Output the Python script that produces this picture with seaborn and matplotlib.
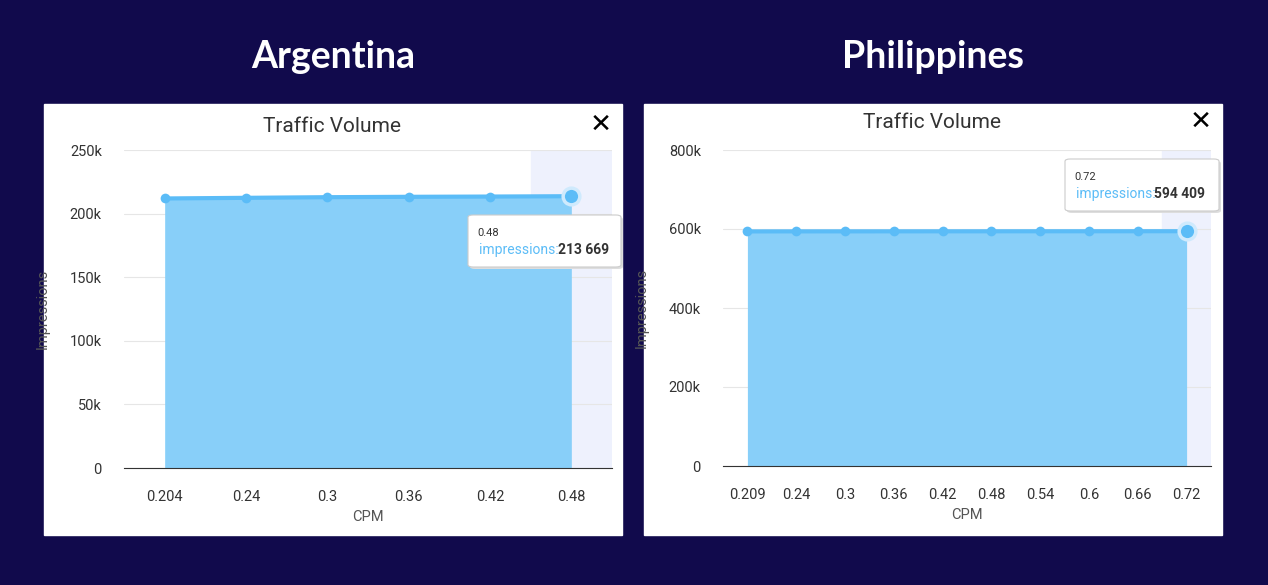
import matplotlib
matplotlib.use('Agg')
import matplotlib.pyplot as plt
import matplotlib.patches as patches
import seaborn as sns
import pandas as pd

# data
arg_cpm = ['0.204', '0.24', '0.3', '0.36', '0.42', '0.48']
arg_imp = [211900, 212400, 212900, 213200, 213400, 213669]
arg_ticks = [0, 50000, 100000, 150000, 200000, 250000]
arg_ticklabels = ['0', '50k', '100k', '150k', '200k', '250k']

phl_cpm = ['0.209', '0.24', '0.3', '0.36', '0.42', '0.48', '0.54', '0.6', '0.66', '0.72']
phl_imp = [593900, 594000, 594050, 594100, 594150, 594200, 594250, 594300, 594350, 594409]
phl_ticks = [0, 200000, 400000, 600000, 800000]
phl_ticklabels = ['0', '200k', '400k', '600k', '800k']

sns.set_style('white')
plt.rcParams['font.family'] = ['Roboto', 'DejaVu Sans']
bg = '#110a4c'
blue = '#5bbcf7'
fill = '#88cff9'
W, H = 1268, 585

fig = plt.figure(figsize=(12.68, 5.85), dpi=100)
fig.patch.set_facecolor(bg)


def panel(box_x, ax_rect, country, cpm, imp, ticks, ticklabels, ymax, title_y,
          tip_val, tip_box, tip_y):
    fig.patches.append(patches.Rectangle((box_x / W, 1 - 535 / H), 578 / W, 431 / H,
                                         transform=fig.transFigure, color='white', zorder=-5))
    fig.text((box_x + 289) / W, 1 - 57 / H, country, color='white', fontsize=27,
             fontweight='bold', family=['Lato', 'DejaVu Sans'], ha='center', va='center')
    fig.text((box_x + 288) / W, 1 - title_y / H, 'Traffic Volume', color='#333333',
             fontsize=15, ha='center', va='center')
    fig.text((box_x + 557) / W, 1 - (title_y - 1) / H, '\u2715', color='black',
             fontsize=19, ha='center', va='center', family=['DejaVu Sans'])

    ax = fig.add_axes(ax_rect)
    ax.patch.set_alpha(0)
    df = pd.DataFrame({'CPM': cpm, 'Impressions': imp})
    x = list(range(len(cpm)))
    n = len(cpm)
    ax.axvspan(n - 1.5, n - 0.5, color='#eef1fd', zorder=0)
    ax.fill_between(x, 0, imp, color=fill, zorder=1, linewidth=0)
    sns.lineplot(data=df, x='CPM', y='Impressions', ax=ax, color=blue, linewidth=3,
                 marker='o', markersize=7, markeredgewidth=0, zorder=3, sort=False)
    ax.plot(n - 1, imp[-1], 'o', color=blue, markersize=12, markeredgecolor='#cfeafd',
            markeredgewidth=2.5, zorder=4)
    ax.set_xlim(-0.5, n - 0.5)
    ax.set_ylim(0, ymax)
    ax.set_yticks(ticks)
    ax.set_yticklabels(ticklabels)
    ax.grid(axis='y', color='#e6e6e6', linewidth=0.8)
    ax.set_axisbelow(True)
    for s in ['top', 'right', 'left']:
        ax.spines[s].set_visible(False)
    ax.spines['bottom'].set_color('#333333')
    ax.tick_params(axis='x', length=0, labelsize=10.5, labelcolor='#333333', pad=16)
    ax.tick_params(axis='y', length=0, labelsize=10.5, labelcolor='#333333', pad=16)
    ax.set_xlabel('CPM', fontsize=10.5, color='#555555', labelpad=4)
    ax.set_ylabel('Impressions', fontsize=10.5, color='#555555', labelpad=14)

    # tooltip box
    bx, by, bw, bh = tip_box
    fig.patches.append(patches.FancyBboxPatch(((bx + 2) / W, 1 - (by + bh + 2) / H), bw / W, bh / H,
                                              boxstyle='round,pad=0,rounding_size=0.004',
                                              transform=fig.transFigure, fc='#dddddd',
                                              ec='none', zorder=5))
    fig.patches.append(patches.FancyBboxPatch((bx / W, 1 - (by + bh) / H), bw / W, bh / H,
                                              boxstyle='round,pad=0,rounding_size=0.004',
                                              transform=fig.transFigure, fc='white',
                                              ec='#cccccc', lw=0.8, zorder=6))
    fig.text((bx + 9) / W, 1 - (by + 18) / H, tip_val, fontsize=8, color='#333333',
             va='center', zorder=7)
    fig.text((bx + 11) / W, 1 - tip_y / H, 'impressions:', color=blue, fontsize=10,
             va='center', zorder=7)
    return ax


panel(44, [124 / W, 1 - 468 / H, 488 / W, 318 / H], 'Argentina',
      arg_cpm, arg_imp, arg_ticks, arg_ticklabels, 250000, 126, '0.48',
      (468, 215, 153, 52), 250)
fig.text(558 / W, 1 - 250 / H, '213 669', color='#333333', fontsize=10,
         fontweight='bold', va='center', zorder=7)

panel(644, [723 / W, 1 - 466 / H, 488 / W, 316 / H], 'Philippines',
      phl_cpm, phl_imp, phl_ticks, phl_ticklabels, 800000, 123, '0.72',
      (1065, 159, 154, 52), 194)
fig.text(1154 / W, 1 - 194 / H, '594 409', color='#333333', fontsize=10,
         fontweight='bold', va='center', zorder=7)

fig.savefig('out.png', dpi=100, facecolor=bg)
